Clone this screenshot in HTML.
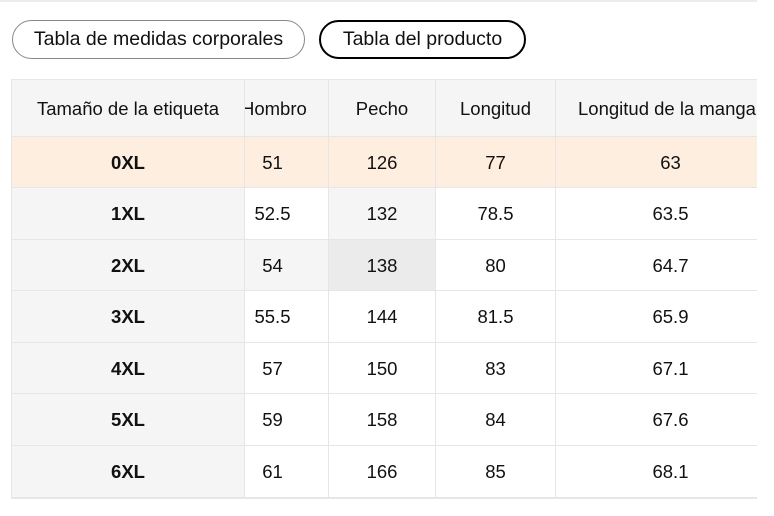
<!DOCTYPE html>
<html><head><meta charset="utf-8"><style>
body{margin:0;width:774px;height:516px;background:#fff;font-family:"Liberation Sans",Arial,sans-serif;color:#111;position:relative;overflow:hidden}
.a{position:absolute}
.btn{position:absolute;top:20px;height:39px;box-sizing:border-box;border-radius:20px;font-size:19.5px;line-height:37px;text-align:center}
.c{position:absolute;overflow:hidden;box-sizing:border-box;border-right:1px solid #e6e6e6;border-bottom:1px solid #e6e6e6;font-size:18.5px;text-align:center;white-space:nowrap}
.c span{position:absolute;top:0;left:0;width:100%;text-align:center}
</style></head><body>
<div class="a" style="left:0;top:0;width:757px;height:2px;background:#ececec"></div>
<div class="btn" style="left:12px;width:293px;border:1px solid #888">Tabla de medidas corporales</div>
<div class="btn" style="left:319px;width:207px;border:2px solid #000;line-height:35px">Tabla del producto</div>
<div class="a" style="left:11px;top:79px;width:746px;height:420px;border:1px solid #e6e6e6;border-right:none;box-sizing:border-box"></div>
<div id="t"></div>
<script>
var xs=[12,245,329,436,556,757];
var ys=[80,137,188,240,291,343,394,446,498];
var off=[0,-14,0,0,14];
var rows=[["Tamaño de la etiqueta","Hombro","Pecho","Longitud","Longitud de la manga"],
["0XL","51","126","77","63"],["1XL","52.5","132","78.5","63.5"],["2XL","54","138","80","64.7"],
["3XL","55.5","144","81.5","65.9"],["4XL","57","150","83","67.1"],["5XL","59","158","84","67.6"],["6XL","61","166","85","68.1"]];
var h="";
for(var r=0;r<8;r++)for(var c=0;c<5;c++){
 var bg="#fff";
 if(r==0||c==0)bg="#f5f5f5";
 if(r==1)bg="#fdeee0";
 if(r==2&&c==2)bg="#f5f5f5";
 if(r==3&&c==1)bg="#f5f5f5";
 if(r==3&&c==2)bg="#ebebeb";
 var w=xs[c+1]-xs[c],hh=ys[r+1]-ys[r];
 var txt=rows[r][c],inner;
 var fw=(c==0&&r>0)?"bold":"normal";
 if(r==0&&c==1){inner='<span style="left:-4px;width:auto;line-height:'+hh+'px">Hombro</span>';}
 else if(r==0&&c==4){inner='<span style="left:22px;width:auto;line-height:'+hh+'px">'+txt+'</span>';}
 else inner='<span style="left:'+off[c]+'px;line-height:'+hh+'px">'+txt+'</span>';
 h+='<div class="c" style="left:'+xs[c]+'px;top:'+ys[r]+'px;width:'+w+'px;height:'+hh+'px;background:'+bg+';font-weight:'+fw+(c==4?';border-right:none':'')+'">'+inner+'</div>';
}
document.getElementById("t").innerHTML=h;
</script>
</body></html>
